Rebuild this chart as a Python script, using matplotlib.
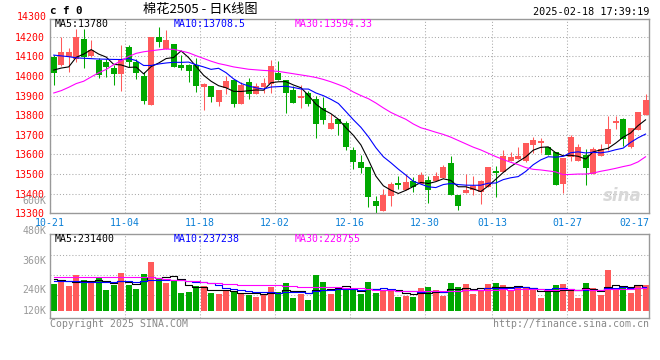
import numpy as np
import pandas as pd
import matplotlib
matplotlib.use("Agg")
import matplotlib.pyplot as plt

# ---- 日K 数据 ----
dates = (["10-21", "10-22", "10-23", "10-24", "10-25", "10-28", "10-29", "10-30", "10-31", "11-01"]
         + ["11-04", "11-05", "11-06", "11-07", "11-08", "11-11", "11-12", "11-13", "11-14", "11-15",
            "11-18", "11-19", "11-20", "11-21", "11-22", "11-25", "11-26", "11-27", "11-28", "11-29"]
         + ["12-02", "12-03", "12-04", "12-05", "12-06", "12-09", "12-10", "12-11", "12-12", "12-13",
            "12-16", "12-17", "12-18", "12-19", "12-20", "12-23", "12-24", "12-25", "12-26", "12-27",
            "12-30", "12-31"]
         + ["01-02", "01-03", "01-06", "01-07", "01-08", "01-09", "01-10", "01-13", "01-14", "01-15",
            "01-16", "01-17", "01-20", "01-21", "01-22", "01-23", "01-24", "01-27"]
         + ["02-05", "02-06", "02-07", "02-10", "02-11", "02-12", "02-13", "02-14", "02-17", "02-18"])

opens = [14098, 14057, 14094, 14084, 14186, 14101, 14081, 14069, 14041, 14011,
         14149, 14072, 13998, 13852, 14200, 14135, 14162, 14055, 14055, 14055,
         13942, 13947, 13867, 13936, 13981, 13859, 13970, 13910, 13944, 13961,
         14016, 13981, 13927, 13888, 13913, 13884, 13838, 13727, 13778, 13760,
         13625, 13563, 13534, 13364, 13313, 13386, 13453, 13418, 13463, 13449,
         13471, 13466, 13478, 13555, 13395, 13405, 13420, 13410, 13432, 13517,
         13509, 13569, 13577, 13569, 13650, 13657, 13640, 13611, 13449, 13589,
         13565, 13599, 13500, 13594, 13654, 13760, 13782, 13637, 13722, 13799]
highs = [14105, 14200, 14140, 14240, 14240, 14183, 14090, 14085, 14055, 14159,
         14155, 14084, 14021, 14197, 14250, 14234, 14165, 14106, 14060, 14089,
         13965, 13950, 13930, 13999, 13986, 13970, 13987, 13965, 13990, 14081,
         14077, 13981, 13950, 13953, 13925, 13900, 13894, 13804, 13782, 13770,
         13640, 13599, 13534, 13389, 13424, 13458, 13488, 13500, 13487, 13510,
         13490, 13509, 13548, 13594, 13395, 13500, 13488, 13471, 13538, 13543,
         13623, 13611, 13640, 13657, 13691, 13684, 13640, 13611, 13581, 13697,
         13654, 13628, 13637, 13654, 13794, 13794, 13787, 13737, 13816, 13906]
lows = [13953, 14050, 14021, 14069, 14041, 14095, 13987, 13995, 13953, 13922,
        14046, 13985, 13859, 13852, 14149, 14135, 14043, 14029, 13970, 13918,
        13828, 13867, 13845, 13910, 13842, 13859, 13881, 13910, 13913, 13915,
        13978, 13811, 13862, 13838, 13845, 13685, 13756, 13727, 13697, 13625,
        13526, 13504, 13330, 13304, 13313, 13335, 13424, 13418, 13406, 13449,
        13355, 13466, 13478, 13395, 13318, 13405, 13393, 13347, 13432, 13381,
        13509, 13569, 13577, 13560, 13606, 13606, 13599, 13444, 13403, 13569,
        13565, 13446, 13500, 13594, 13625, 13731, 13642, 13634, 13722, 13799]
closes = [14016, 14122, 14122, 14197, 14098, 14132, 14007, 14046, 14011, 14084,
          14069, 14016, 13872, 14197, 14174, 14183, 14043, 14041, 14026, 13949,
          13958, 13891, 13927, 13973, 13859, 13953, 13910, 13947, 13966, 14050,
          13978, 13913, 13862, 13896, 13855, 13753, 13773, 13761, 13753, 13640,
          13560, 13529, 13381, 13338, 13393, 13449, 13444, 13461, 13436, 13497,
          13420, 13492, 13534, 13395, 13335, 13420, 13437, 13466, 13538, 13505,
          13594, 13586, 13594, 13657, 13676, 13667, 13599, 13444, 13581, 13688,
          13640, 13529, 13628, 13628, 13731, 13770, 13680, 13736, 13816, 13879]

# 成交量 (千手)
volumes_k = [270, 310, 250, 357, 310, 293, 337, 210, 260, 380,
             260, 220, 370, 490, 320, 280, 310, 183, 190, 250,
             250, 180, 170, 197, 197, 177, 165, 143, 167, 245,
             193, 280, 133, 167, 113, 360, 290, 170, 217, 235,
             213, 170, 290, 180, 213, 218, 142, 152, 142, 228,
             240, 210, 153, 280, 240, 270, 170, 213, 270, 280,
             260, 200, 237, 230, 208, 132, 190, 260, 270, 197,
             132, 280, 232, 160, 410, 210, 246, 180, 260, 260]

# 均线起始段 (窗口不足, 直接读图)
ma5_head = [14030, 14040, 14046, 14095]
ma10_head = [14106, 14102, 14098, 14092, 14090, 14088, 14086, 14085, 14084]
ma30 = [13913, 13925, 13942, 13961, 13973, 13995, 14016, 14033, 14057, 14077,
        14099, 14115, 14123, 14128, 14133, 14137, 14135, 14127, 14118, 14103,
        14089, 14075, 14063, 14055, 14046, 14040, 14034, 14031, 14028, 14026,
        14023, 14017, 14011, 14005, 13999, 13992, 13982, 13970, 13956, 13941,
        13918, 13900, 13884, 13862, 13837, 13814, 13796, 13779, 13755, 13736,
        13725, 13713, 13702, 13688, 13671, 13654, 13637, 13623, 13606, 13589,
        13574, 13560, 13548, 13533, 13524, 13521, 13516, 13511, 13497, 13498,
        13500, 13500, 13505, 13514, 13521, 13529, 13538, 13546, 13562, 13588]
vma5_head_k = [317, 312, 300, 295]
vma10_head_k = [300, 298, 297, 296, 295, 295, 294, 293, 292]
vma30_head_k = [345, 345, 345, 345, 345, 345, 345, 345, 345, 340,
                340, 340, 340, 340, 330, 320, 315, 310, 305, 298,
                293, 285, 280, 272, 266, 262, 260, 259, 258]

tick_dates = ["10-21", "11-04", "11-18", "12-02", "12-16", "12-30", "01-13", "01-27", "02-17"]
ma_texts = ["MA5:13780", "MA10:13708.5", "MA30:13594.33"]
vol_ma_texts = ["MA5:231400", "MA10:237238", "MA30:228755"]
vol_labels = ["600K", "480K", "360K", "240K", "120K"]

RED = "#ff5a5a"
GREEN = "#00a800"
GRID = "#aaaaaa"
BORDER = "#999999"
MA_COLORS = ["black", "#0000ff", "#ff00ff"]
MONO = "DejaVu Sans Mono"
FS = 7.1

W, H = 660, 360


def box(l, t, r, b):
    return [l / W, 1 - b / H, (r - l) / W, (b - t) / H]


fig = plt.figure(figsize=(W / 100, H / 100), dpi=100)
ax = fig.add_axes(box(50, 19, 649.3, 213.3))
axv = fig.add_axes(box(50, 234.3, 649.3, 318.3))

o = np.array(opens, float)
h = np.array(highs, float)
l = np.array(lows, float)
c = np.array(closes, float)
v = np.array(volumes_k, float) * 1000
x = np.arange(len(c))
cols = np.where(c >= o, RED, GREEN)

# 均线
cs = pd.Series(c)
ma5 = cs.rolling(5).mean().to_numpy()
ma5[:4] = ma5_head
ma10 = cs.rolling(10).mean().to_numpy()
ma10[:9] = ma10_head
vs = pd.Series(v)
vma5 = vs.rolling(5).mean().to_numpy()
vma5[:4] = np.array(vma5_head_k) * 1000
vma10 = vs.rolling(10).mean().to_numpy()
vma10[:9] = np.array(vma10_head_k) * 1000
vma30 = vs.rolling(30).mean().to_numpy()
vma30[:29] = np.array(vma30_head_k) * 1000

# 网格
tick_idx = [dates.index(d) for d in tick_dates]
for a in (ax, axv):
    a.set_xlim(-0.5, len(c) - 0.5)
    for i in tick_idx[:-1]:
        a.axvline(i - 0.5, color=GRID, linestyle=(0, (1, 2)), linewidth=0.75, zorder=0)
    for s in a.spines.values():
        s.set_color(BORDER)
        s.set_linewidth(1.0)

ax.set_ylim(13300, 14290)
ax.set_yticks(range(13300, 14300, 100))
ax.yaxis.grid(True, color=GRID, linestyle=(0, (1, 2)), linewidth=0.75)
ax.set_axisbelow(True)
ax.tick_params(axis="y", length=0, pad=3.5, labelsize=FS, labelcolor="red")
ax.set_xticks([i - 0.5 for i in tick_idx])
ax.set_xticklabels(tick_dates)
ax.tick_params(axis="x", length=0, pad=3.5, labelsize=FS, labelcolor="#0a7fd6")
for t in ax.get_yticklabels() + ax.get_xticklabels():
    t.set_family(MONO)
ax.text(-0.006, 14300, "14300", transform=ax.get_yaxis_transform(), ha="right", va="center",
        color="red", fontsize=FS, family=MONO, clip_on=False)

# K 线
body = np.maximum(np.abs(c - o), 4)
ax.vlines(x, l, h, colors=cols, linewidth=0.75, zorder=2)
ax.bar(x, body, bottom=np.minimum(o, c), width=0.8, color=cols, linewidth=0, zorder=3)
for series, colr in zip([ma5, ma10, ma30], MA_COLORS):
    ax.plot(x, series, color=colr, linewidth=0.8, zorder=4)

for txt, xp, colr in zip(ma_texts, [55, 174, 295], MA_COLORS):
    ax.text((xp - 50) / 599.3, 0.974, txt, transform=ax.transAxes, ha="left", va="center",
            color=colr, fontsize=FS, family=MONO)

# 水印
ax.text(0.955, 0.09, "sina", transform=ax.transAxes, ha="center", va="center",
        color="#d8d8d8", fontsize=12, fontstyle="italic", fontweight="bold", zorder=1)

# 成交量
axv.set_ylim(-73000, 767000)
axv.set_yticks([])
axv.set_xticks([])
for gv in (160000, 360000, 560000):
    axv.axhline(gv, color=GRID, linestyle=(0, (1, 2)), linewidth=0.75, zorder=0)
axv.bar(x, v, width=0.8, color=cols, linewidth=0, zorder=2)
for series, colr in zip([vma5, vma10, vma30], MA_COLORS):
    axv.plot(x, series, color=colr, linewidth=0.8, drawstyle="steps-mid", zorder=3)
for txt, xp, colr in zip(vol_ma_texts, [55, 174, 295], MA_COLORS):
    axv.text((xp - 50) / 599.3, 0.944, txt, transform=axv.transAxes, ha="left", va="center",
             color=colr, fontsize=FS, family=MONO)
for txt, py in zip(vol_labels, [201, 231, 261, 290, 310.7]):
    axv.text(-0.006, (318.3 - py) / 84, txt, transform=axv.transAxes, ha="right", va="center",
             color="#999999", fontsize=FS, family=MONO, clip_on=False)

# 标题与脚注
fig.text(50 / W, 1 - 11 / H, "c f 0", ha="left", va="center", fontsize=7.8,
         fontweight="bold", family=MONO, color="black")
fig.text(200 / W, 1 - 10 / H, "棉花2505 - 日K线图", ha="center", va="center", fontsize=9.5,
         family=["Noto Sans CJK SC", "DejaVu Sans"], color="black")
fig.text(649 / W, 1 - 12 / H, "2025-02-18 17:39:19", ha="right", va="center",
         fontsize=7.3, family=MONO, color="black")
fig.text(50 / W, 1 - 324 / H, "Copyright 2025 SINA.COM", ha="left", va="center",
         fontsize=FS, family=MONO, color="#888888")
fig.text(649 / W, 1 - 324 / H, "http://finance.sina.com.cn", ha="right", va="center",
         fontsize=FS, family=MONO, color="#888888")

fig.savefig("out.png", dpi=100, facecolor="white")
